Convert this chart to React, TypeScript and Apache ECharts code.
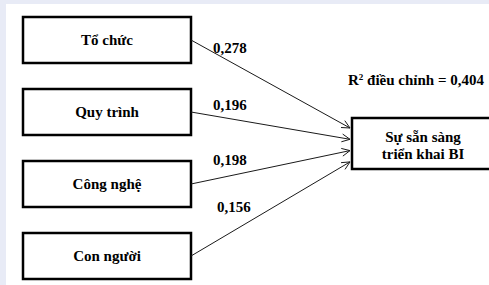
import React, { useEffect, useRef } from "react";
import * as echarts from "echarts";

// ---- data ----
const factors: string[] = ["Tổ chức", "Quy trình", "Công nghệ", "Con người"];
const coefficients: number[] = [0.278, 0.196, 0.198, 0.156];
const targetLines: string[] = ["Sự sẵn sàng", "triển khai BI"];
const r2Value: number = 0.404;
const r2Prefix: string = "điều chỉnh = ";

// ---- layout ----
const W = 489;
const H = 285;
const FAMILY = "Liberation Serif";
const fmt = (v: number) => v.toFixed(3).replace(".", ",");

const SRC_X = 23;
const SRC_W = 168;
const SRC_H = 46;
const SRC_TOP0 = 17;
const SRC_STEP = 72;

const TGT_X = 352;
const TGT_Y = 118;
const TGT_W = 142;
const TGT_H = 51;
const TIP_X = 350;
const TIP_Y0 = TGT_Y + 10;
const TIP_STEP = 11.3;

const LABEL_X = [213, 213, 213, 217];
const LABEL_Y = [48, 105, 160, 207];

function txt(x: number, y: number, text: string, align: string) {
  return {
    type: "text",
    x,
    y,
    style: {
      text,
      fontFamily: FAMILY,
      fontSize: 15,
      fontWeight: "bold",
      fill: "#000",
      align,
      verticalAlign: "middle",
    },
  };
}

function buildGraphic(): any[] {
  const els: any[] = [];
  els.push({
    type: "rect",
    shape: { x: 6, y: 4, width: W - 6, height: H - 4 },
    style: { fill: "#ffffff" },
    silent: true,
  });
  factors.forEach((name, i) => {
    const top = SRC_TOP0 + i * SRC_STEP;
    const sx = SRC_X + SRC_W;
    const sy = top + SRC_H / 2;
    const tx = TIP_X;
    const ty = TIP_Y0 + i * TIP_STEP;
    els.push({
      type: "rect",
      shape: { x: SRC_X, y: top, width: SRC_W, height: SRC_H },
      style: { fill: "#fff", stroke: "#000", lineWidth: 2.5 },
    });
    els.push(txt(SRC_X + SRC_W / 2, top + SRC_H / 2, name, "center"));
    els.push({
      type: "line",
      shape: { x1: sx, y1: sy, x2: tx, y2: ty },
      style: { stroke: "#1a1a1a", lineWidth: 1 },
    });
    const th = Math.atan2(ty - sy, tx - sx);
    const L = 9;
    const phi = 0.45;
    els.push({
      type: "polyline",
      shape: {
        points: [
          [tx - L * Math.cos(th - phi), ty - L * Math.sin(th - phi)],
          [tx, ty],
          [tx - L * Math.cos(th + phi), ty - L * Math.sin(th + phi)],
        ],
      },
      style: { stroke: "#1a1a1a", lineWidth: 1, fill: "none" },
    });
    els.push(txt(LABEL_X[i], LABEL_Y[i], fmt(coefficients[i]), "left"));
  });
  els.push({
    type: "rect",
    shape: { x: TGT_X, y: TGT_Y, width: TGT_W, height: TGT_H },
    style: { fill: "#fff", stroke: "#000", lineWidth: 2.5 },
  });
  targetLines.forEach((t, i) => {
    els.push(txt(423, 137 + i * 17, t, "center"));
  });
  els.push({
    type: "text",
    x: 348,
    y: 80,
    style: {
      text: "{r|R}{s|2} {t|" + r2Prefix + fmt(r2Value) + "}",
      fontFamily: FAMILY,
      fontSize: 15,
      fontWeight: "bold",
      fill: "#000",
      align: "left",
      verticalAlign: "middle",
      rich: {
        r: { fontFamily: FAMILY, fontWeight: "bold", fontSize: 15, fill: "#000" },
        s: {
          fontFamily: FAMILY,
          fontWeight: "bold",
          fontSize: 9,
          fill: "#000",
          verticalAlign: "top",
          padding: [0, 0, 6, 0],
        },
        t: { fontFamily: FAMILY, fontWeight: "bold", fontSize: 15, fill: "#000" },
      },
    },
  });
  return els;
}

export default function App() {
  const ref = useRef<HTMLDivElement>(null);
  useEffect(() => {
    if (!ref.current) return;
    const chart = echarts.init(ref.current, undefined, { renderer: "svg" });
    chart.setOption({
      animation: false,
      backgroundColor: "#e8ebf6",
      graphic: { elements: buildGraphic() },
    });
    return () => chart.dispose();
  }, []);
  return (
    <div
      ref={ref}
      style={{ position: "fixed", left: 0, top: 0, width: W, height: H }}
    />
  );
}
